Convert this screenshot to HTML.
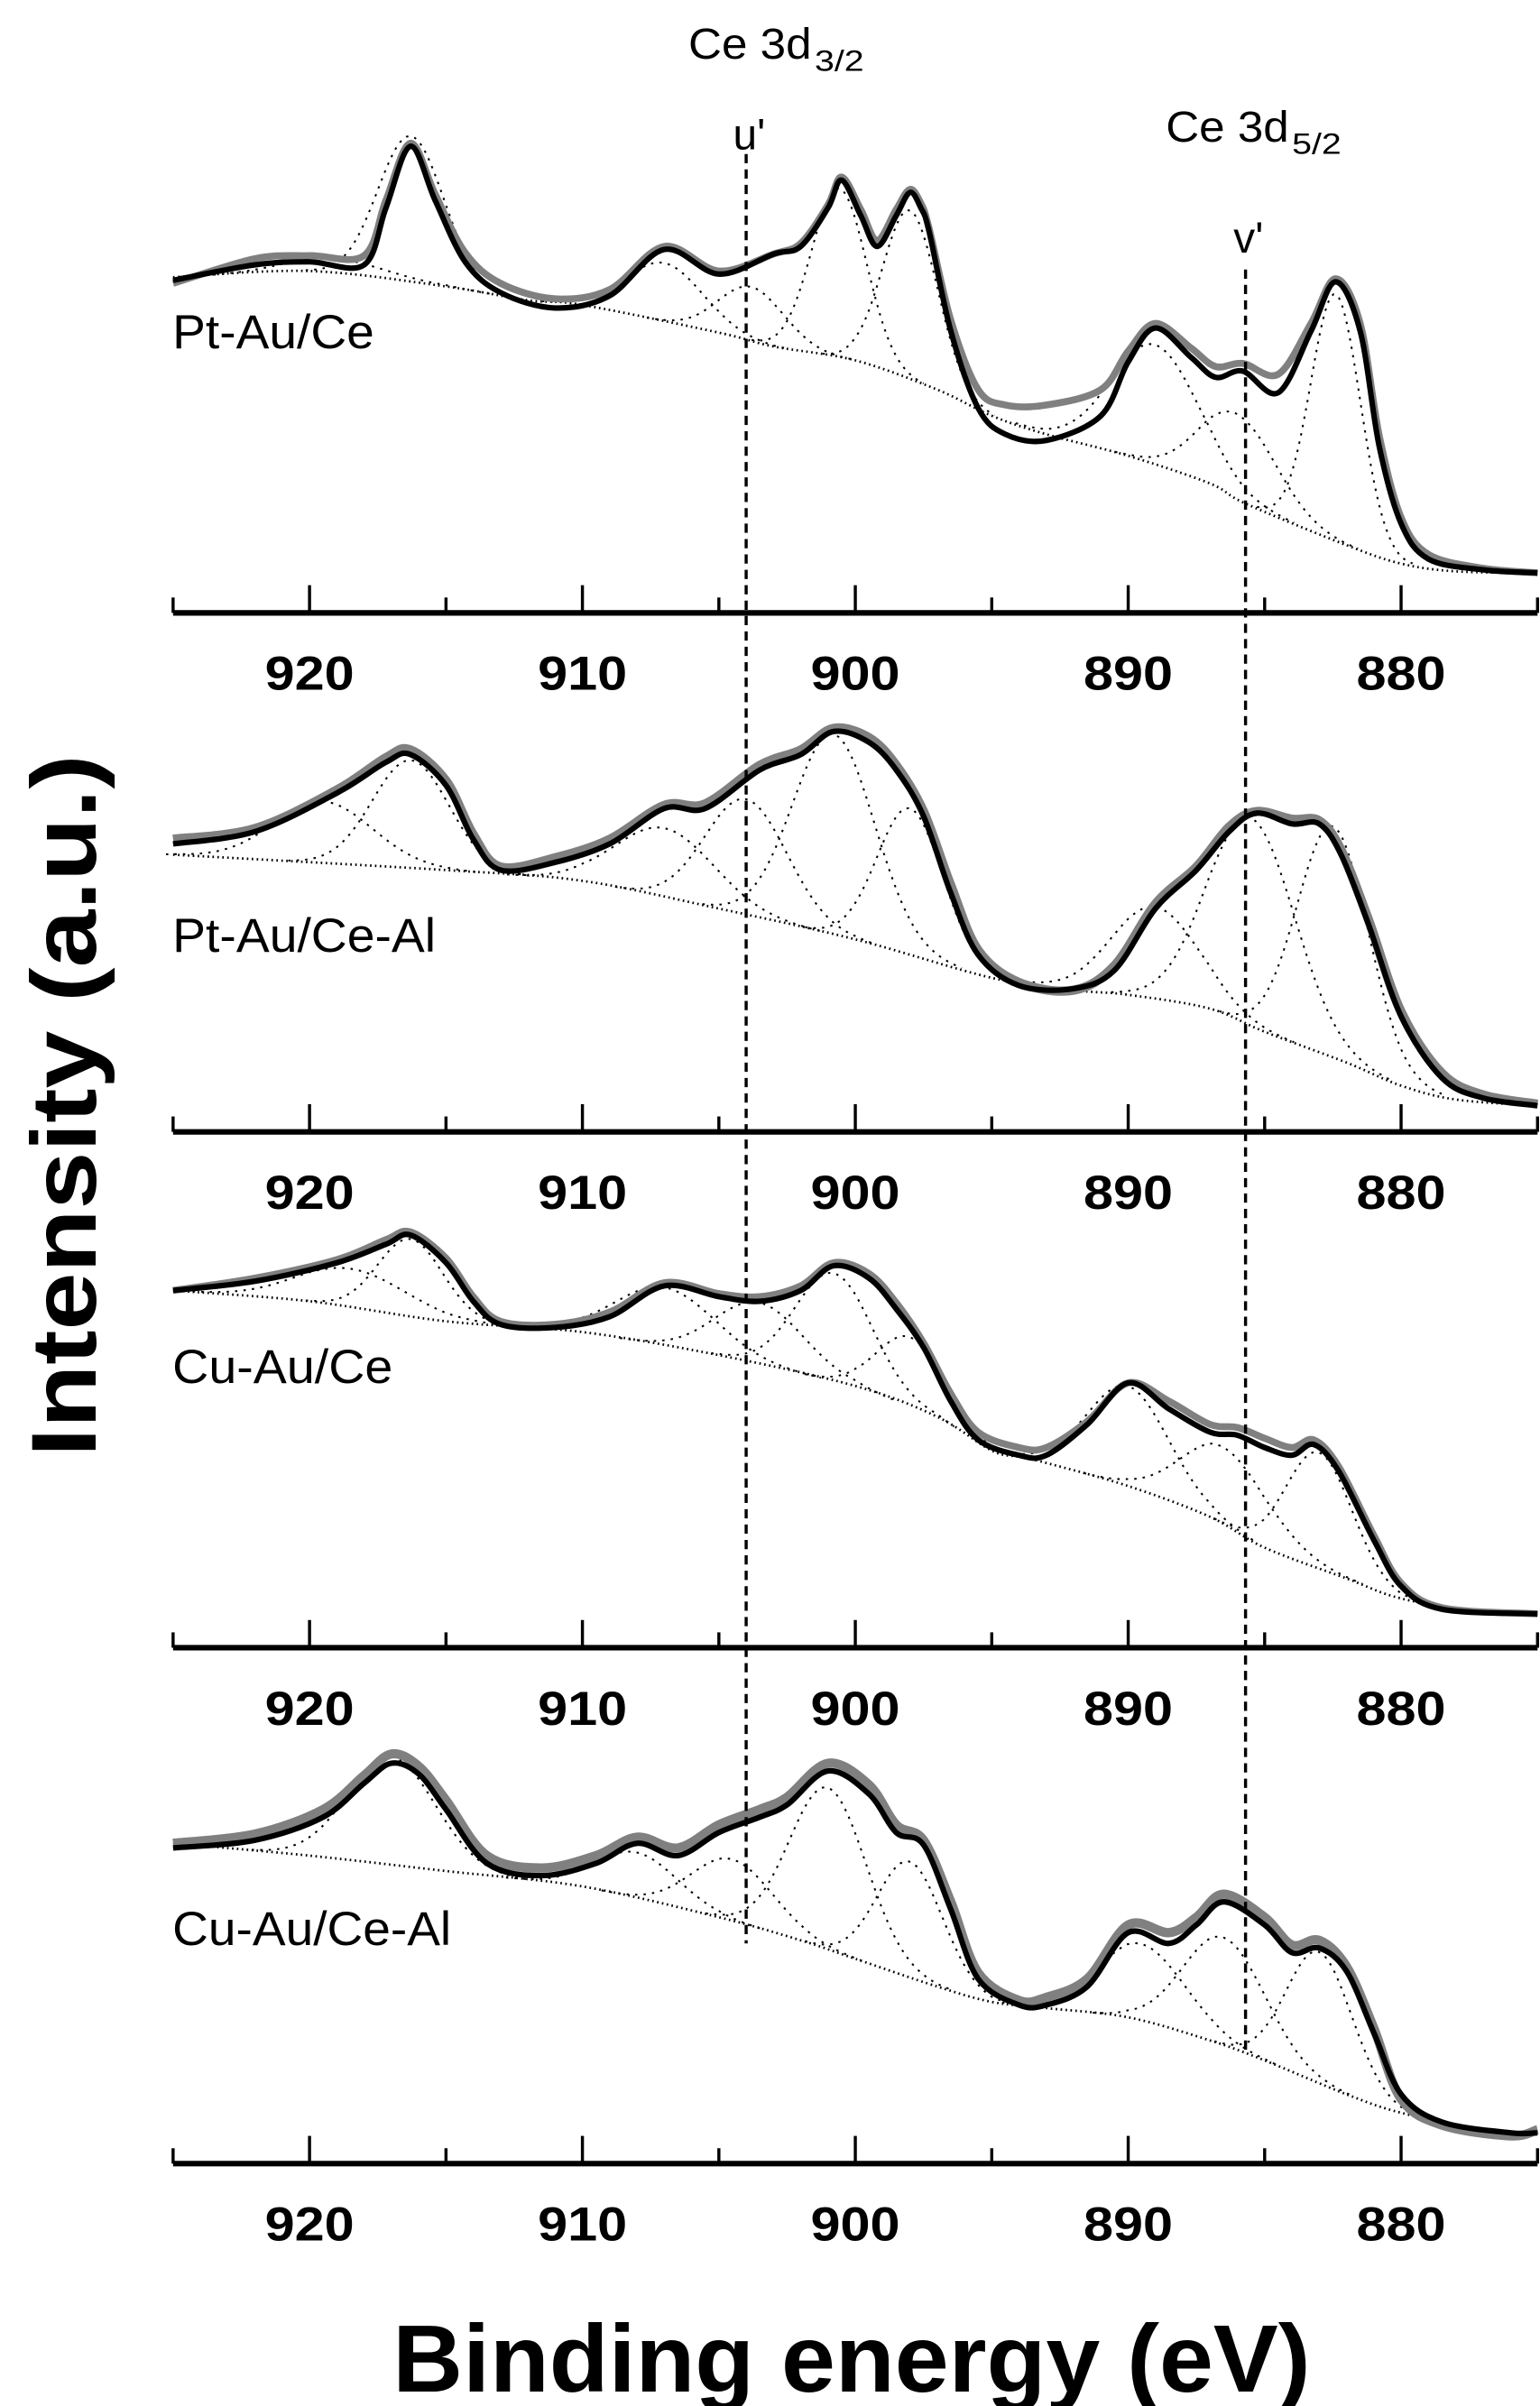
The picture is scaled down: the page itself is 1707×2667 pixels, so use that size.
<!DOCTYPE html>
<html><head><meta charset="utf-8"><title>Ce 3d XPS</title>
<style>html,body{margin:0;padding:0;background:#fff}svg{display:block}</style></head>
<body>
<svg id="chart" xmlns="http://www.w3.org/2000/svg" width="1707" height="2667" viewBox="0 0 1000 1562.4" preserveAspectRatio="none" font-family="'Liberation Sans', Arial, sans-serif">
<rect width="1000" height="1562.4" fill="#fff"/>
<g id="plots"></g>
<text x="447" y="38" font-size="28" textLength="80" lengthAdjust="spacingAndGlyphs">Ce 3d</text>
<text x="529" y="46" font-size="19" textLength="32" lengthAdjust="spacingAndGlyphs">3/2</text>
<text x="476" y="97" font-size="28">u'</text>
<text x="757" y="92" font-size="28" textLength="80" lengthAdjust="spacingAndGlyphs">Ce 3d</text>
<text x="839" y="100" font-size="19" textLength="32" lengthAdjust="spacingAndGlyphs">5/2</text>
<text x="801" y="164" font-size="28">v'</text>
<text x="553" y="1553" font-size="62" font-weight="bold" text-anchor="middle" textLength="596" lengthAdjust="spacingAndGlyphs">Binding energy (eV)</text>
<text transform="translate(62,718) rotate(-90)" font-size="60" font-weight="bold" text-anchor="middle" textLength="456" lengthAdjust="spacingAndGlyphs">Intensity (a.u.)</text>
</svg>
<script>
// ---- data ----
const tickValues = [920, 910, 900, 890, 880];
const minorTicks = [925, 915, 905, 895, 885, 875];
const panelNames = ["Pt-Au/Ce", "Pt-Au/Ce-Al", "Cu-Au/Ce", "Cu-Au/Ce-Al"];
const refLines = [904.0, 885.7];

const e1 = [925,922,920,918,917.2,916.3,915.4,914.3,913,911,909,907,905,903,902,901,900.5,899.8,899.2,898.5,898,897.6,897.3,896.5,895.5,894.5,893,891,890,889,887.7,886.8,885.8,884.5,883.3,882.4,881.5,880.8,880,879,877,875];
const fit1 = [216,226,228,226,263,303,268,228,208,198,206,236,220,233,238,263,281,258,238,258,273,263,248,183,133,116,112,128,163,185,166,153,157,143,183,215,183,108,58,35,28,26];
const exp1 = [214,230,232,232,268,305,272,234,214,204,210,238,222,233,240,265,283,262,242,262,275,266,250,190,145,135,135,145,170,188,172,160,162,155,188,217,188,115,62,38,29,26];
const bgE1 = [925,920,915,912,910,905,903,900,897,895,893,890,887,885.7,882,880,878,875];
const bg1 = [218,222,212,203,200,182,173,164,145,128,116,102,84,71,44,32,27,26];
const pkC1 = [919, 916.3, 907, 903.8, 900.6, 898, 889, 886, 882.4];
const pkH1 = [10, 95, 38, 35, 110, 110, 78, 55, 160];
const pkS1 = [1.8, 1.2, 1.4, 1.2, 1.0, 1.0, 1.6, 1.4, 0.9];

const e2 = [925,922,919,917.2,916.3,915,914,913,911,909,907,905.5,903.5,902,900.8,899.5,898.5,897.5,896.5,895.5,894,892,890.5,889,887.5,886.3,885.3,884,883,882.2,881.2,880,878.5,877,875];
const fit2 = [187,195,220,240,245,225,190,170,175,187,210,210,235,245,260,253,235,205,155,115,95,93,105,145,170,195,207,200,200,180,135,75,35,22,17];
const exp2 = [190,197,222,243,248,228,193,172,178,190,212,213,238,248,262,256,238,208,160,118,97,92,108,148,172,198,208,203,202,183,138,78,38,24,18];
const bgE2 = [925,915,910,905,900,895,892,890,887,885,882,880,878,875];
const bg2 = [180,170,163,145,125,100,92,89,80,65,45,30,21,17];
const pkC2 = [919.5, 916.3, 907, 904, 900.8, 898, 889, 885.5, 882.5];
const pkH2 = [40, 70, 45, 75, 130, 95, 60, 135, 150];
const pkS2 = [1.8, 1.4, 1.8, 1.5, 1.5, 1.2, 1.6, 1.6, 1.3];

const e3 = [925,922,919,917.2,916.3,915,914,913,911,909,907,905,903.5,902,900.8,899.5,898.5,897.5,896.5,895.5,894,893,891.5,890,888.5,887,886,885,884,883.2,882.3,881,880,878.5,875];
const fit3 = [232,238,250,262,268,250,225,210,208,215,235,228,225,232,248,240,220,195,160,135,125,125,145,172,155,140,138,130,125,132,115,70,40,25,22];
const exp3 = [232,240,252,265,270,253,228,212,210,218,237,230,228,235,250,243,224,198,165,140,130,130,147,172,160,145,143,136,130,135,118,73,42,26,22];
const bgE3 = [925,920,915,910,905,900,897,895,894,893,890,887,885,882,880,877,875];
const bg3 = [232,225,212,205,190,170,150,128,124,120,105,85,65,45,32,23,22];
const pkC3 = [918.5, 916.3, 907, 903.5, 900.8, 898, 890, 886.5, 883];
const pkH3 = [25, 50, 38, 40, 70, 45, 65, 50, 75];
const pkS3 = [2.0, 1.2, 1.8, 1.6, 1.4, 1.2, 1.5, 1.6, 1.2];

const e4 = [925,922,919.5,918,917,916,915,913.5,911.5,909.5,908,906.5,905,903.5,902.5,901,899.5,898.5,897.5,896.5,895.5,894,893,891.5,890,888.5,887.5,886.5,885,884,883,882,881,880,878.5,876,875];
const fit4 = [205,210,225,247,260,253,230,195,187,195,208,200,215,225,233,255,240,215,207,165,120,103,103,115,150,143,155,170,155,137,140,125,85,45,27,20,20];
const exp4 = [208,214,230,252,266,258,236,200,192,200,212,205,220,230,238,260,246,220,210,170,124,106,108,120,155,150,160,175,160,142,145,128,88,42,25,18,22];
const bgE4 = [925,920,915,910,905,902,900,897,895,893,890,887,885,882,880,877,875];
const bg4 = [208,200,190,180,160,145,133,115,105,101,95,80,67,45,33,22,20];
const pkC4 = [917, 908, 904.5, 901, 898, 889.5, 886.5, 883];
const pkH4 = [70, 30, 40, 105, 75, 50, 70, 85];
const pkS4 = [1.6, 1.5, 1.5, 1.4, 1.2, 1.6, 1.5, 1.2];

const energies = [e1, e2, e3, e4];
const fits = [fit1, fit2, fit3, fit4];
const exps = [exp1, exp2, exp3, exp4];
const bgEs = [bgE1, bgE2, bgE3, bgE4];
const bgs = [bg1, bg2, bg3, bg4];
const pkCs = [pkC1, pkC2, pkC3, pkC4];
const pkHs = [pkH1, pkH2, pkH3, pkH4];
const pkSs = [pkS1, pkS2, pkS3, pkS4];

// ---- layout ----
const NS = "http://www.w3.org/2000/svg";
const axisYs = [398, 735, 1070, 1405];
const labelYs = [226, 618, 898, 1263];
const labelLens = [131, 171, 143, 181];
const xScale = e => 201 + (920 - e) * 17.72;
const yScale = (p, v) => axisYs[p] - v;

function mk(tag, attrs, parent) {
  const el = document.createElementNS(NS, tag);
  for (const k in attrs) el.setAttribute(k, attrs[k]);
  parent.appendChild(el);
  return el;
}
function smoothPath(pts) {
  let d = "M" + pts[0][0].toFixed(2) + "," + pts[0][1].toFixed(2);
  for (let i = 0; i < pts.length - 1; i++) {
    const p0 = pts[Math.max(0, i - 1)], p1 = pts[i], p2 = pts[i + 1], p3 = pts[Math.min(pts.length - 1, i + 2)];
    const c1x = p1[0] + (p2[0] - p0[0]) / 6, c1y = p1[1] + (p2[1] - p0[1]) / 6;
    const c2x = p2[0] - (p3[0] - p1[0]) / 6, c2y = p2[1] - (p3[1] - p1[1]) / 6;
    d += "C" + c1x.toFixed(2) + "," + c1y.toFixed(2) + " " + c2x.toFixed(2) + "," + c2y.toFixed(2) + " " + p2[0].toFixed(2) + "," + p2[1].toFixed(2);
  }
  return d;
}
function interp(xs, ys, x) {
  if (x >= xs[0]) return ys[0];
  for (let i = 0; i < xs.length - 1; i++) {
    if (x <= xs[i] && x >= xs[i + 1]) {
      const t = (xs[i] - x) / (xs[i] - xs[i + 1]);
      return ys[i] + t * (ys[i + 1] - ys[i]);
    }
  }
  return ys[ys.length - 1];
}

const root = document.getElementById("plots");
for (let p = 0; p < 4; p++) {
  const g = mk("g", {}, root);
  
  

  const bgPts = bgEs[p].map((e, i) => [xScale(e), yScale(p, bgs[p][i])]);
  const bgPath = mk("path", {d: smoothPath(bgPts), fill: "none", stroke: "#000", "stroke-width": 1.6, "stroke-dasharray": "1 2.2"}, g);
  
  

  for (let k = 0; k < pkCs[p].length; k++) {
    const c = pkCs[p][k], h = pkHs[p][k], s = pkSs[p][k];
    const pts = [];
    for (let e = c + 3.2 * s; e >= c - 3.2 * s; e -= 0.1) {
      const v = interp(bgEs[p], bgs[p], e) + h * Math.exp(-((e - c) ** 2) / (2 * s * s));
      pts.push([xScale(e), yScale(p, v)]);
    }
    const cp = mk("path", {d: "M" + pts.map(q => q[0].toFixed(2) + "," + q[1].toFixed(2)).join("L"), fill: "none", stroke: "#000", "stroke-width": 1.2, "stroke-dasharray": "1.5 4"}, g);
    
    
  }

  const ePts = energies[p].map((e, i) => [xScale(e), yScale(p, exps[p][i])]);
  const ex = mk("path", {d: smoothPath(ePts), fill: "none", stroke: "#808080", "stroke-width": (p % 2 ? 6 : 4.5), "stroke-linejoin": "round"}, g);
  
  

  const fPts = energies[p].map((e, i) => [xScale(e), yScale(p, fits[p][i])]);
  const ft = mk("path", {d: smoothPath(fPts), fill: "none", stroke: "#000", "stroke-width": 3.6, "stroke-linejoin": "round"}, g);
  
  

  const ax = mk("line", {x1: xScale(925), x2: xScale(875), y1: axisYs[p], y2: axisYs[p], stroke: "#000", "stroke-width": 3.6}, g);
  
  
  tickValues.forEach(v => {
    const t = mk("line", {x1: xScale(v), x2: xScale(v), y1: axisYs[p], y2: axisYs[p] - 18, stroke: "#000", "stroke-width": 2}, g);
    
    
    const tl = mk("text", {x: xScale(v), y: axisYs[p] + 50, "font-size": 31, "font-weight": "bold", "text-anchor": "middle", textLength: 58, lengthAdjust: "spacingAndGlyphs"}, g);
    tl.textContent = String(v);
    
    
  });
  minorTicks.forEach(v => {
    const t = mk("line", {x1: xScale(v), x2: xScale(v), y1: axisYs[p], y2: axisYs[p] - 10, stroke: "#000", "stroke-width": 2}, g);
    
    
  });
  const lab = mk("text", {x: 112, y: labelYs[p], "font-size": 31, textLength: labelLens[p], lengthAdjust: "spacingAndGlyphs"}, g);
  lab.textContent = panelNames[p];
  
  
}
const refTop = [100, 175], refBot = [1262, 1335];
refLines.forEach((e, i) => {
  const l = mk("line", {x1: xScale(e), x2: xScale(e), y1: refTop[i], y2: refBot[i], stroke: "#000", "stroke-width": 2, "stroke-dasharray": "6 4"}, root);
  
  
});
</script>
</body></html>
